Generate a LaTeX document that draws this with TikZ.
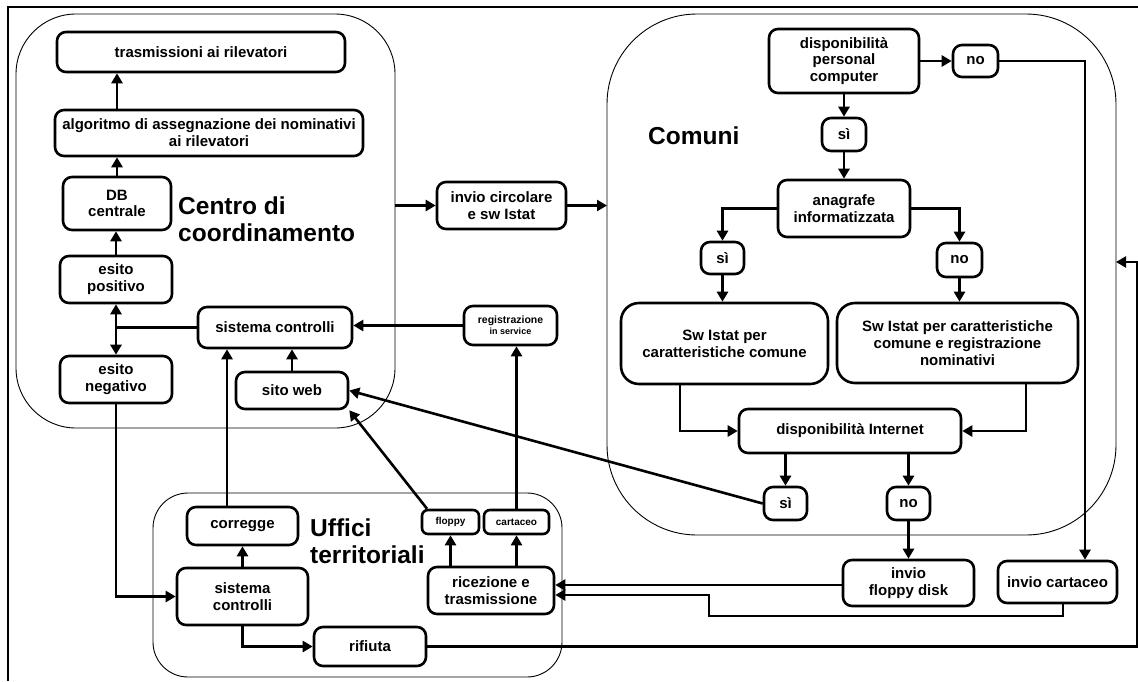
\documentclass[tikz,border=0pt]{standalone}
\usepackage{fontspec}
\setmainfont{Liberation Sans}
\usetikzlibrary{arrows.meta}

\begin{document}
\begin{tikzpicture}[x=1pt,y=-1pt,
    box/.style={draw,fill=white,line width=2.6pt,rounded corners=9pt,align=center,inner sep=0pt,
      font=\bfseries\fontsize{15}{16.8}\selectfont},
    small/.style={box,rounded corners=6pt,font=\bfseries\fontsize{10}{11}\selectfont},
    area/.style={draw,line width=0.9pt},
    title/.style={anchor=north west,align=left,inner sep=0pt,font=\bfseries\fontsize{24.5}{27}\selectfont},
    arr/.style={line width=2.6pt,-{Triangle[length=10pt,width=11pt]}},
    link/.style={line width=2.6pt}]
  \useasboundingbox (0,0) rectangle (1138,681);
  % frame
  \draw[line width=2.8pt] (8,681) -- (8,7) -- (1138,7);
  % the three areas
  \draw[area,rounded corners=60pt] (16,14) rectangle (395,428);
  \draw[area,rounded corners=90pt] (607,14) rectangle (1116,535);
  \draw[area,rounded corners=35pt] (153,493) rectangle (562,677);
  \node[title] (centro) at (178,197) {Centro di\\coordinamento};
  \node[title] (comuni) at (648,127) {Comuni};
  \node[title] (uffici) at (310,519) {Uffici\\territoriali};

  % centro di coordinamento
  \node[box,minimum width=288pt,minimum height=40pt] (trasm) at (201,52) {trasmissioni ai rilevatori};
  \node[box,minimum width=308pt,minimum height=46pt] (algo) at (209,133) {algoritmo di assegnazione dei nominativi\\ai rilevatori};
  \node[box,minimum width=108pt,minimum height=53pt] (db) at (117,203.5) {DB\\centrale};
  \node[box,minimum width=112pt,minimum height=47pt] (espos) at (116,279.5) {esito\\positivo};
  \node[box,minimum width=154pt,minimum height=41pt] (sisc) at (275,327.5) {sistema controlli};
  \node[box,minimum width=112pt,minimum height=47pt] (esneg) at (116,379.5) {esito\\negativo};
  \node[box,minimum width=112pt,minimum height=37pt] (sito) at (292,390.5) {sito web};
  \node[box,minimum width=93pt,minimum height=39pt,font=\bfseries\fontsize{10.5}{11}\selectfont] (reg) at (510.5,325.5) {registrazione\\{\fontsize{9}{10}\selectfont in service}};
  \node[box,minimum width=129pt,minimum height=47pt] (circ) at (501.5,205.5) {invio circolare\\e sw Istat};

  % comuni
  \node[box,minimum width=150pt,minimum height=64pt] (dpc) at (844,61) {disponibilità\\personal\\computer};
  \node[box,minimum width=45pt,minimum height=32pt] (no1) at (975.5,61) {no};
  \node[box,minimum width=44pt,minimum height=33pt] (si1) at (844,134.5) {sì};
  \node[box,minimum width=132pt,minimum height=57pt] (anag) at (844,208.5) {anagrafe\\informatizzata};
  \node[box,minimum width=43pt,minimum height=32pt] (si2) at (722.5,258) {sì};
  \node[box,minimum width=45pt,minimum height=34pt] (no2) at (959.5,260) {no};
  \node[box,minimum width=207pt,minimum height=81pt,rounded corners=18pt] (swc) at (724.5,343.5) {Sw Istat per\\caratteristiche comune};
  \node[box,minimum width=241pt,minimum height=80pt,rounded corners=18pt] (swn) at (957.5,343) {Sw Istat per caratteristiche\\comune e registrazione\\nominativi};
  \node[box,minimum width=222pt,minimum height=44pt] (dint) at (850,431) {disponibilità Internet};
  \node[box,minimum width=43pt,minimum height=33pt] (si3) at (785.5,503.5) {sì};
  \node[box,minimum width=43pt,minimum height=33pt] (no3) at (908.5,503.5) {no};
  \node[box,minimum width=131pt,minimum height=46pt] (ifd) at (908.5,583) {invio\\floppy disk};
  \node[box,minimum width=119pt,minimum height=42pt] (ic) at (1057.5,582) {invio cartaceo};

  % uffici territoriali
  \node[box,minimum width=111pt,minimum height=38pt] (corr) at (242.5,526) {corregge};
  \node[box,minimum width=131pt,minimum height=57pt] (sisu) at (242.5,596.5) {sistema\\controlli};
  \node[small,minimum width=57pt,minimum height=24pt] (floppy) at (450.5,522) {floppy};
  \node[small,minimum width=65pt,minimum height=24pt] (cart) at (516.5,522) {cartaceo};
  \node[box,minimum width=126pt,minimum height=47pt] (ric) at (491,590.5) {ricezione e\\trasmissione};
  \node[box,minimum width=112pt,minimum height=39pt] (rif) at (370,646.5) {rifiuta};

  % connectors, centro
  \coordinate (jn) at (espos |- sisc);
  \draw[link] (sisc.west) -- (jn);
  \draw[arr] (jn) -- (espos.south);
  \draw[arr] (jn) -- (esneg.north);
  \draw[arr] (espos.north) -- (espos.north |- db.south);
  \draw[arr] (db.north) -- (db.north |- algo.south);
  \draw[arr] (algo.north -| db) -- (db |- trasm.south);
  \draw[arr] (sito.north) -- (sito.north |- sisc.south);
  \draw[arr] ([xshift=-15.5pt]corr.north) -- ([xshift=-15.5pt]corr.north |- sisc.south);
  \draw[arr] (reg.west) -- (reg.west -| sisc.east);
  \coordinate (cE) at (395,205.5);
  \coordinate (cW) at (607,205.5);
  \draw[arr] (cE) -- (circ);
  \draw[arr] (circ) -- (cW);

  % connectors, comuni
  \coordinate (nobend) at (1085,61);
  \draw[arr] (dpc) -- (no1);
  \draw[arr] (no1) -- (nobend) -- (nobend |- ic.north);
  \draw[arr] (dpc) -- (si1);
  \draw[arr] (si1) -- (anag);
  \draw[arr] (anag) -| (no2);
  \draw[arr] (anag) -| (si2);
  \draw[arr] (si2) -- (si2 |- swc.north);
  \draw[arr] (no2) -- (no2 |- swn.north);
  \draw[arr] ([xshift=-44.5pt]swc.south) |- (dint);
  \draw[arr] ([xshift=68.5pt]swn.south) |- (dint);
  \draw[arr] (si3 |- dint.south) -- (si3);
  \draw[arr] (no3 |- dint.south) -- (no3);
  \draw[arr] (no3) -- (ifd);
  \draw[arr] (si3.west) -- (sito.east);
  \draw[arr] ([yshift=5.5pt]ric.east -| ifd.west) -- ([yshift=5.5pt]ric.east);
  \coordinate (wrap) at (709,616);
  \draw[arr] ([xshift=5.5pt]ic.south) |- (wrap) |- ([yshift=-4.5pt]ric.east);

  % connectors, uffici
  \draw[arr] (sisu) -- (corr);
  \draw[arr] (esneg) |- (sisu);
  \draw[arr] (sisu) |- (rif);
  \draw[arr] (floppy |- ric.north) -- (floppy);
  \draw[arr] (cart |- ric.north) -- (cart);
  \draw[arr] ([xshift=-23.5pt]floppy.north) -- (sito.south east);
  \draw[arr] (cart.north) -- (cart.north |- reg.south);
  \coordinate (cmE) at (1116,262);
  \coordinate (rt) at (1137,262);
  \draw[arr] (rif) -| (rt) -- (cmE);
\end{tikzpicture}
\end{document}
